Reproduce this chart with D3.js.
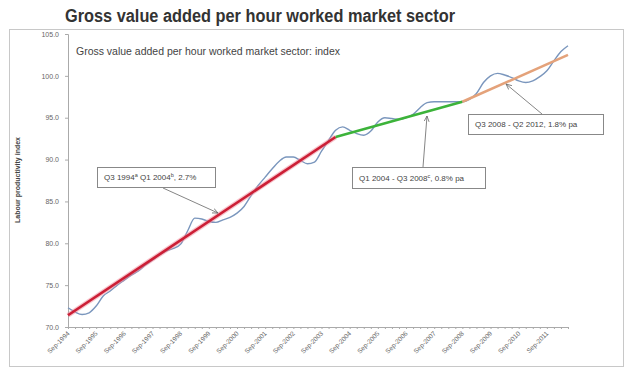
<!DOCTYPE html>
<html lang="en">
<head>
<meta charset="utf-8">
<title>GVA per hour worked</title>
<script src="https://d3js.org/d3.v7.min.js"></script>
<style>
  body { margin: 0; background: #fff; }
  text { font-family: "Liberation Sans", Arial, sans-serif; }
</style>
</head>
<body>
<div id="vis"></div>
<script>
// quarterly index, Q3 1994 .. Q2 2012
const quarters = d3.range(72);
const startYear = 1994, startQ = 3;
const index = [
  72.3, 71.8, 71.5, 71.7, 72.5, 73.7, 74.3, 75.0, 75.6, 76.2,
  76.7, 77.4, 78.0, 78.6, 79.1, 79.4, 79.9, 81.5, 83.0, 82.9,
  82.6, 82.5, 82.8, 83.1, 83.6, 84.4, 85.7, 86.9, 87.9, 88.9,
  89.8, 90.3, 90.3, 89.9, 89.5, 89.7, 91.0, 92.3, 93.5, 93.9,
  93.5, 93.1, 92.9, 93.4, 94.5, 95.0, 94.9, 94.8, 95.0, 95.4,
  96.2, 96.8, 96.9, 96.9, 96.9, 96.9, 96.9, 97.2, 97.9, 99.2,
  100.0, 100.3, 100.1, 99.8, 99.4, 99.2, 99.4, 99.9, 100.6, 101.8,
  102.9, 103.6
];
// trend segments: [start quarter, start value, end quarter, end value]
const trendRed = [0, 71.4, 38, 92.7];
const trendGreen = [38, 92.7, 56, 96.9];
const trendOrange = [56, 96.9, 71, 102.5];
const yTicks = [70, 75, 80, 85, 90, 95, 100, 105];
const xLabels = d3.range(1994, 2012).map(y => "Sep-" + y);

const width = 629, height = 370;
const svg = d3.select("#vis").append("svg")
  .attr("width", width).attr("height", height);

// frame
svg.append("rect").attr("x", 9.5).attr("y", 29.5).attr("width", 614).attr("height", 337)
  .attr("fill", "none").attr("stroke", "#c8c8c8");

svg.append("text").attr("x", 260).attr("y", 22).attr("text-anchor", "middle")
  .attr("font-size", 18).attr("font-weight", "bold").attr("fill", "#333")
  .attr("textLength", 390).attr("lengthAdjust", "spacingAndGlyphs")
  .text("Gross value added per hour worked market sector");

const x = d3.scaleLinear().domain([0, 71]).range([68, 568]);
const y = d3.scaleLinear().domain([70, 105]).range([327, 34]);

// y axis
const yAxis = svg.append("g").attr("transform", "translate(68,0)")
  .call(d3.axisLeft(y).tickValues(yTicks).tickFormat(d3.format(".1f")).tickSize(3).tickPadding(6));
yAxis.select(".domain").attr("stroke", "#aaa");
yAxis.selectAll(".tick line").attr("stroke", "#aaa");
yAxis.selectAll("text").attr("font-size", 7).attr("fill", "#666");

svg.append("text").attr("transform", "translate(20,180) rotate(-90)")
  .attr("text-anchor", "middle").attr("font-size", 7).attr("font-weight", "bold").attr("fill", "#444")
  .text("Labour productivity index");

// x axis with quarterly ticks
const xAxis = svg.append("g").attr("transform", "translate(0,327)")
  .call(d3.axisBottom(x).tickValues(quarters).tickFormat("").tickSize(2).tickSizeOuter(0));
xAxis.select(".domain").attr("stroke", "#aaa");
xAxis.selectAll(".tick line").attr("stroke", "#aaa");

svg.append("g").selectAll("text").data(xLabels).join("text")
  .attr("transform", (d, i) => `translate(${x(i * 4) + 2},334) rotate(-45)`)
  .attr("text-anchor", "end").attr("font-size", 6.5).attr("fill", "#666")
  .text(d => d);

svg.append("text").attr("x", 76).attr("y", 55).attr("font-size", 11).attr("fill", "#444")
  .attr("textLength", 264).attr("lengthAdjust", "spacingAndGlyphs")
  .text("Gross value added per hour worked market sector: index");

// data line
const line = d3.line().x((d, i) => x(i)).y(d => y(d)).curve(d3.curveMonotoneX);
svg.append("path").datum(index).attr("d", line)
  .attr("fill", "none").attr("stroke", "#7a96bd").attr("stroke-width", 1.4);

function trend(seg, color, glow) {
  const pts = [[x(seg[0]), y(seg[1])], [x(seg[2]), y(seg[3])]];
  if (glow) {
    svg.append("path").attr("d", d3.line()(pts)).attr("stroke", glow)
      .attr("stroke-width", 5).attr("opacity", 0.5).attr("fill", "none");
  }
  svg.append("path").attr("d", d3.line()(pts)).attr("stroke", color)
    .attr("stroke-width", 2.6).attr("fill", "none");
}
trend(trendRed, "#cc1f36", "#f08a9a");
trend(trendGreen, "#3cb33a", null);
trend(trendOrange, "#e4a27a", null);

// arrow marker
svg.append("defs").append("marker").attr("id", "arr")
  .attr("viewBox", "0 0 10 10").attr("refX", 9).attr("refY", 5)
  .attr("markerWidth", 7).attr("markerHeight", 7).attr("orient", "auto")
  .append("path").attr("d", "M0,1 L9,5 L0,9").attr("fill", "none").attr("stroke", "#666").attr("stroke-width", 1.2);

function callout(bx, by, bw, bh, parts, ax1, ay1, ax2, ay2) {
  svg.append("line").attr("x1", ax1).attr("y1", ay1).attr("x2", ax2).attr("y2", ay2)
    .attr("stroke", "#777").attr("stroke-width", 0.9).attr("marker-end", "url(#arr)");
  svg.append("rect").attr("x", bx + 0.5).attr("y", by + 0.5).attr("width", bw).attr("height", bh)
    .attr("fill", "#fff").attr("stroke", "#888");
  const t = svg.append("text").attr("x", bx + 7).attr("y", by + bh / 2 + 3)
    .attr("font-size", 8).attr("fill", "#444");
  parts.forEach(p => {
    const s = t.append("tspan").text(p[0]);
    if (p[1]) s.attr("font-size", 5.5).attr("dy", -3);
    else if (p[2]) s.attr("dy", 3);
  });
}

callout(97, 167, 118, 20,
  [["Q3 1994"], ["a", 1], [" Q1 2004", 0, 1], ["b", 1], [", 2.7%", 0, 1]],
  163, 188, 218, 213);
callout(352, 167, 133, 21,
  [["Q1 2004 - Q3 2008"], ["c", 1], [", 0.8% pa", 0, 1]],
  423, 167, 427, 116);
callout(468, 114, 135, 20,
  [["Q3 2008 - Q2 2012,  1.8% pa"]],
  542, 114, 506, 84);
</script>
</body>
</html>
